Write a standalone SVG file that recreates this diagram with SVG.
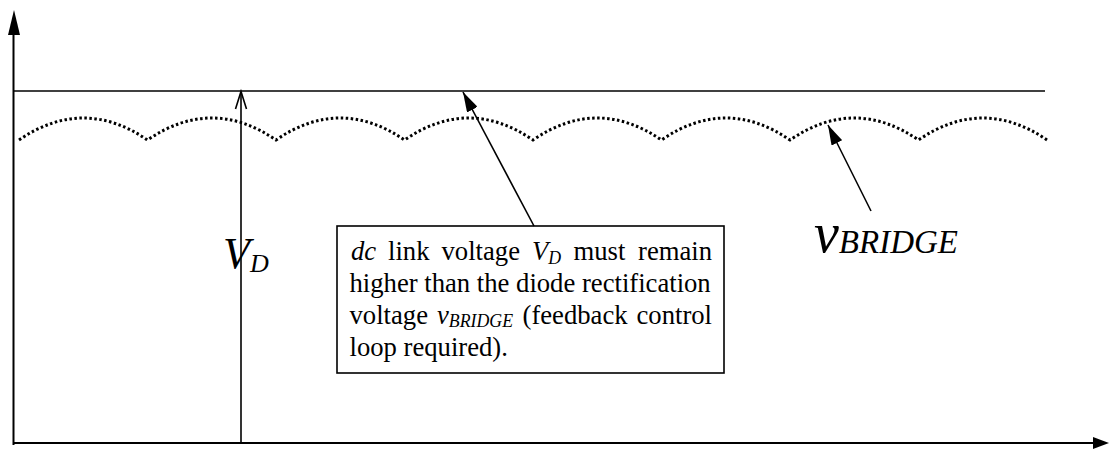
<svg xmlns="http://www.w3.org/2000/svg" width="1109" height="450" viewBox="0 0 1109 450">
<style>
.ln{stroke:#000;stroke-width:1.6;fill:none}
.ax{stroke:#000;stroke-width:2;fill:none}
.wave{stroke:#000;stroke-width:3;fill:none;stroke-dasharray:2.5 2.5}
</style>
<defs>
<marker id="fa" viewBox="0 0 20 12" refX="20" refY="6" markerWidth="20" markerHeight="12" markerUnits="userSpaceOnUse" orient="auto"><path d="M0,0 L20,6 L0,12 z" fill="#000"/></marker>
</defs>
<rect width="1109" height="450" fill="#fff"/>
<g id="axes">
<line class="ax" x1="13.5" y1="445" x2="13.5" y2="33"/>
<polygon points="14,10 8,35 20,35" fill="#000"/>
<line class="ax" x1="13" y1="443" x2="1095" y2="443"/>
<polygon points="1093,437 1109,443 1093,449" fill="#000"/>
</g>
<g id="vd-line">
<line class="ln" x1="13" y1="91" x2="1045" y2="91"/>
</g>
<g id="vbridge-wave">
<path class="wave" d="M19,140 Q83.25,96 147.5,140 Q211.75,96 276,140 Q340.25,96 404.5,140 Q468.75,96 533,140 Q597.25,96 661.5,140 Q725.75,96 790,140 Q854.25,96 918.5,140 Q982.75,96 1047,140"/>
</g>
<g id="vd-label" font-family="Liberation Serif, Times New Roman, serif" font-style="italic" fill="#000">
<text x="223" y="268" font-size="44">V<tspan font-size="26" dy="4">D</tspan></text>
</g>
<g id="vbridge-label" font-family="Liberation Serif, Times New Roman, serif" font-style="italic" fill="#000">
<text x="814" y="252" font-size="56">v<tspan font-size="33" dy="1">BRIDGE</tspan></text>
</g>
<g id="note" font-family="Liberation Serif, Times New Roman, serif" font-size="26.67" fill="#000">
<rect x="337" y="226" width="387" height="147" fill="#fff" stroke="#000" stroke-width="1.6"/>
<text><tspan font-style="italic" x="351" y="260">dc</tspan><tspan x="388" y="260">link</tspan><tspan x="441.5" y="260">voltage</tspan><tspan font-style="italic" x="532" y="260">V</tspan><tspan font-style="italic" font-size="17.8" dy="4">D</tspan><tspan x="573.5" y="260">must</tspan><tspan x="638" y="260">remain</tspan></text>
<text x="349.5" y="292">higher than the diode rectification</text>
<text><tspan x="349.5" y="324">voltage</tspan><tspan font-style="italic" x="437" y="324">v</tspan><tspan font-style="italic" font-size="17.8" dy="3">BRIDGE</tspan><tspan x="522.5" y="324">(feedback</tspan><tspan x="636.5" y="324">control</tspan></text>
<text x="349.5" y="356">loop required).</text>
</g>
<g id="connectors">
<line class="ln" x1="241" y1="443" x2="241" y2="92"/>
<polyline class="ln" points="235.5,109 241,91.5 246.5,109"/>
<line class="ln" x1="534" y1="226" x2="463" y2="92" marker-end="url(#fa)"/>
<line class="ln" x1="871" y1="211" x2="828" y2="125" marker-end="url(#fa)"/>
</g>
</svg>
